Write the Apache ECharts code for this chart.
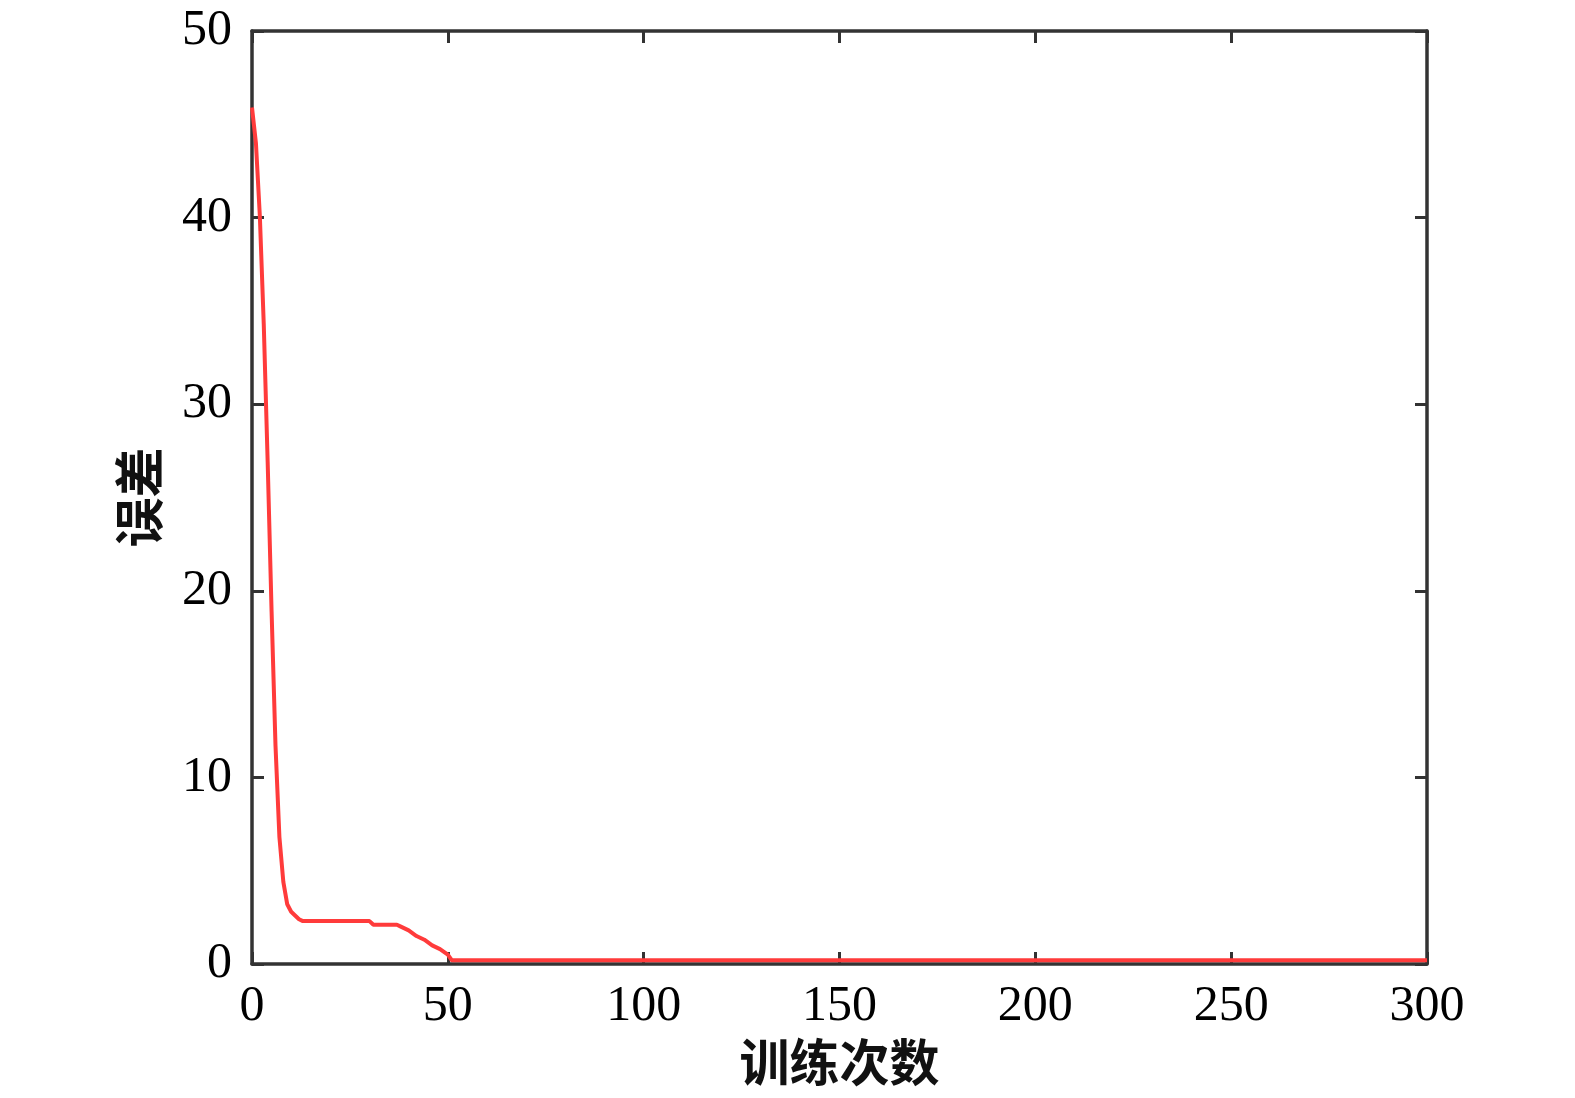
<!DOCTYPE html>
<html>
<head>
<meta charset="utf-8">
<script src="https://cdn.jsdelivr.net/npm/echarts@6/dist/echarts.min.js"></script>
<style>html,body{margin:0;padding:0;background:#fff;overflow:hidden}#c{width:1575px;height:1098px}</style>
</head>
<body>
<div id="c"></div>
<script>
var epochs = [0, 1, 2, 3, 4, 5, 6, 7, 8, 9, 10, 11, 12, 13, 30, 31, 37, 38, 40, 42, 44, 46, 48, 50, 51, 300];
var errors = [45.9, 44.0, 40.1, 34.3, 26.9, 18.9, 11.7, 6.8, 4.4, 3.2, 2.8, 2.6, 2.4, 2.3, 2.3, 2.1, 2.1, 2.0, 1.8, 1.5, 1.3, 1.0, 0.8, 0.5, 0.2, 0.2];
var xTicks = [0, 50, 100, 150, 200, 250, 300];
var yTicks = [0, 10, 20, 30, 40, 50];

var pts = epochs.map(function (e, i) { return [e, errors[i]]; });
var serif = '"Liberation Serif", "Times New Roman", serif';
var cjk = '"Noto Sans CJK SC", sans-serif';
var axisLine = { show: true, onZero: false, lineStyle: { color: '#333', width: 3.5 } };
var tick = { show: true, inside: true, length: 12, lineStyle: { color: '#333', width: 3 } };

var chart = echarts.init(document.getElementById('c'));
chart.setOption({
  animation: false,
  backgroundColor: '#fff',
  grid: { left: 252, right: 148, top: 31, bottom: 134, containLabel: false, outerBoundsMode: 'none' },
  xAxis: [{
    type: 'value', min: xTicks[0], max: xTicks[xTicks.length - 1], interval: 50, position: 'bottom',
    name: '训练次数', nameLocation: 'middle', nameGap: 70,
    nameTextStyle: { fontFamily: cjk, fontSize: 50, fontWeight: 'bold', color: '#111' },
    axisLine: axisLine, axisTick: tick, splitLine: { show: false },
    axisLabel: { fontFamily: serif, fontSize: 50, color: '#000', margin: 18 }
  }, {
    type: 'value', min: xTicks[0], max: xTicks[xTicks.length - 1], interval: 50, position: 'top',
    axisLine: axisLine, axisTick: tick, splitLine: { show: false }, axisLabel: { show: false }
  }],
  yAxis: [{
    type: 'value', min: yTicks[0], max: yTicks[yTicks.length - 1], interval: 10, position: 'left',
    name: '误差', nameLocation: 'middle', nameGap: 88,
    nameTextStyle: { fontFamily: cjk, fontSize: 50, fontWeight: 'bold', color: '#111' },
    axisLine: axisLine, axisTick: tick, splitLine: { show: false },
    axisLabel: { fontFamily: serif, fontSize: 50, color: '#000', margin: 20 }
  }, {
    type: 'value', min: yTicks[0], max: yTicks[yTicks.length - 1], interval: 10, position: 'right',
    axisLine: axisLine, axisTick: tick, splitLine: { show: false }, axisLabel: { show: false }
  }],
  series: [{
    type: 'line', xAxisIndex: 0, yAxisIndex: 0, data: pts,
    showSymbol: false, symbol: 'none', z: 5,
    lineStyle: { color: '#ff3b3b', width: 4 }
  }]
});
</script>
</body>
</html>
